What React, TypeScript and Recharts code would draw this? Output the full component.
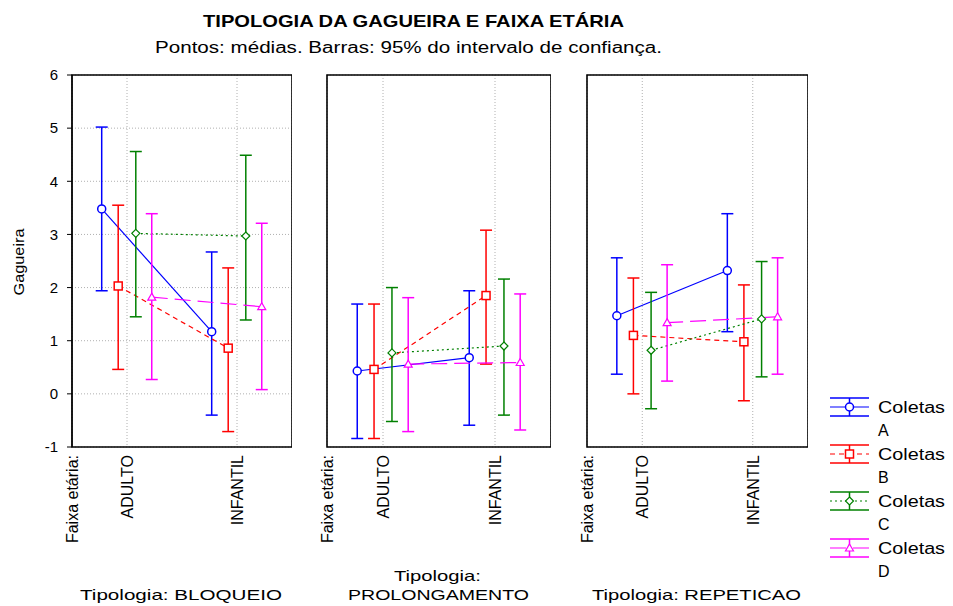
import React from "react";
import { ComposedChart, Line, XAxis, YAxis, CartesianGrid, ErrorBar, ReferenceArea } from "recharts";

const FONT = "'Liberation Sans', Arial, sans-serif";

const categories = ["ADULTO", "INFANTIL"];
const xTickValues = [0, 1, 3];
const xTickLabels = ["Faixa etária:", "ADULTO", "INFANTIL"];
const yTicks = [-1, 0, 1, 2, 3, 4, 5, 6];
const rightTicks = [5.13, 4.26, 3.35, 2.49, 1.61, 0.75, -0.16];
const panelNames = ["BLOQUEIO", "PROLONGAMENTO", "REPETICAO"];
const seriesNames = ["Coletas A", "Coletas B", "Coletas C", "Coletas D"];
const seriesColors = ["#0000FF", "#FF0000", "#008000", "#FF00FF"];
const seriesDash = ["0", "5 4", "2 3", "16 7"];
const seriesOffsets = [-0.46, -0.16, 0.16, 0.45];

// [series][category]
const bloqueioMeans = [[3.48, 1.17], [2.03, 0.86], [3.02, 2.97], [1.82, 1.64]];
const bloqueioLower = [[1.94, -0.4], [0.46, -0.71], [1.45, 1.39], [0.27, 0.08]];
const bloqueioUpper = [[5.02, 2.67], [3.55, 2.37], [4.56, 4.49], [3.39, 3.21]];

const prolongMeans = [[0.43, 0.68], [0.46, 1.85], [0.77, 0.9], [0.56, 0.59]];
const prolongLower = [[-0.84, -0.59], [-0.84, 0.56], [-0.52, -0.4], [-0.71, -0.68]];
const prolongUpper = [[1.69, 1.94], [1.69, 3.08], [2.0, 2.16], [1.81, 1.88]];

const repeticaoMeans = [[1.47, 2.32], [1.1, 0.98], [0.82, 1.41], [1.34, 1.45]];
const repeticaoLower = [[0.37, 1.17], [0.0, -0.13], [-0.28, 0.32], [0.24, 0.37]];
const repeticaoUpper = [[2.56, 3.39], [2.18, 2.05], [1.91, 2.49], [2.43, 2.56]];

function Marker({ s, cx, cy }: { s: number; cx: number; cy: number }) {
  const c = seriesColors[s];
  if (s === 0) return <circle cx={cx} cy={cy} r={4} fill="#fff" stroke={c} strokeWidth={1.5} />;
  if (s === 1) return <rect x={cx - 4} y={cy - 4} width={8} height={8} fill="#fff" stroke={c} strokeWidth={1.5} />;
  if (s === 2)
    return (
      <polygon
        points={`${cx},${cy - 4} ${cx + 4},${cy} ${cx},${cy + 4} ${cx - 4},${cy}`}
        fill="#fff"
        stroke={c}
        strokeWidth={1.2}
      />
    );
  return (
    <polygon
      points={`${cx},${cy - 4} ${cx + 4},${cy + 3} ${cx - 4},${cy + 3}`}
      fill="#fff"
      stroke={c}
      strokeWidth={1.2}
    />
  );
}

const XTick = (props: any) => {
  const { x, y, payload } = props;
  const idx = xTickValues.indexOf(payload.value);
  return (
    <text
      x={0}
      y={0}
      transform={`translate(${x + 6},${y + 8}) rotate(-90)`}
      textAnchor="end"
      fontSize={16}
      fontFamily={FONT}
      fill="#000"
    >
      {xTickLabels[idx]}
    </text>
  );
};

function buildSeries(means: number[][], lower: number[][], upper: number[][], s: number) {
  return categories.map((c, i) => ({
    cat: c,
    x: 1 + 2 * i + seriesOffsets[s],
    y: means[s][i],
    err: [means[s][i] - lower[s][i], upper[s][i] - means[s][i]],
  }));
}

function Panel({
  plotLeft,
  plotWidth,
  showY,
  means,
  lower,
  upper,
}: {
  plotLeft: number;
  plotWidth: number;
  showY: boolean;
  means: number[][];
  lower: number[][];
  upper: number[][];
}) {
  const yW = showY ? 40 : 14;
  const width = yW + plotWidth + 1;
  return (
    <div style={{ position: "absolute", left: plotLeft - yW, top: 60 }}>
      <ComposedChart width={width} height={497} margin={{ top: 15, right: 0, bottom: 0, left: 0 }}>
        <CartesianGrid stroke="#b0b0b0" strokeDasharray="1 2" />
        <XAxis
          type="number"
          dataKey="x"
          domain={[0, 4]}
          ticks={xTickValues}
          interval={0}
          tick={<XTick />}
          tickLine={false}
          axisLine={false}
          tickSize={0}
          tickMargin={0}
          height={110}
          allowDataOverflow
        />
        {showY ? (
          <YAxis
            domain={[-1, 6]}
            ticks={yTicks}
            interval={0}
            width={yW}
            allowDataOverflow
            tickSize={5}
            tickMargin={9}
            stroke="#000"
            tick={{ fontSize: 15, fill: "#000", fontFamily: FONT }}
          />
        ) : (
          <YAxis
            domain={[-1, 6]}
            ticks={yTicks}
            interval={0}
            width={yW}
            allowDataOverflow
            tick={false}
            tickLine={false}
            axisLine={false}
          />
        )}
        <YAxis
          yAxisId="r"
          orientation="right"
          domain={[-1, 6]}
          ticks={rightTicks}
          interval={0}
          width={1}
          mirror
          tick={false}
          axisLine={false}
          tickSize={5}
          stroke="#000"
          allowDataOverflow
        />
        <ReferenceArea
          x1={0}
          x2={4}
          y1={-1}
          y2={6}
          fill="none"
          fillOpacity={0}
          stroke="#000"
          strokeWidth={1.6}
          ifOverflow="visible"
        />
        {seriesNames.map((name, s) => (
          <Line
            key={name}
            name={name}
            data={buildSeries(means, lower, upper, s)}
            dataKey="y"
            type="linear"
            stroke={seriesColors[s]}
            strokeWidth={1.2}
            strokeDasharray={seriesDash[s]}
            isAnimationActive={false}
            activeDot={false}
            dot={(p: any) => (
              <g key={`d-${s}-${p.index}`}>
                <Marker s={s} cx={p.cx} cy={p.cy} />
              </g>
            )}
          >
            <ErrorBar dataKey="err" width={6} stroke={seriesColors[s]} strokeWidth={1.5} direction="y" />
          </Line>
        ))}
      </ComposedChart>
    </div>
  );
}

export default function App() {
  const legendRows = seriesNames.map((n, s) => ({ n, s, cy: 407 + 47 * s }));
  return (
    <div style={{ position: "absolute", left: 0, top: 0, width: 953, height: 606, background: "#fff", overflow: "hidden" }}>
      <Panel plotLeft={72} plotWidth={219} showY means={bloqueioMeans} lower={bloqueioLower} upper={bloqueioUpper} />
      <Panel plotLeft={327} plotWidth={223} showY={false} means={prolongMeans} lower={prolongLower} upper={prolongUpper} />
      <Panel plotLeft={587} plotWidth={220} showY={false} means={repeticaoMeans} lower={repeticaoLower} upper={repeticaoUpper} />
      <svg
        width={953}
        height={606}
        style={{ position: "absolute", left: 0, top: 0, pointerEvents: "none" }}
        fontFamily={FONT}
      >
        <text x={203} y={26.5} fontSize={17} fontWeight="bold" textLength={421} lengthAdjust="spacingAndGlyphs" fill="#000">
          TIPOLOGIA DA GAGUEIRA E FAIXA ETÁRIA
        </text>
        <text x={155} y={53} fontSize={16} textLength={507} lengthAdjust="spacingAndGlyphs" fill="#000">
          Pontos: médias. Barras: 95% do intervalo de confiança.
        </text>
        <text
          x={0}
          y={0}
          transform="translate(24,262) rotate(-90)"
          textAnchor="middle"
          fontSize={15}
          textLength={67}
          lengthAdjust="spacingAndGlyphs"
          fill="#000"
        >
          Gagueira
        </text>
        <text x={80} y={600} fontSize={15} textLength={202} lengthAdjust="spacingAndGlyphs" fill="#000">
          {`Tipologia: ${panelNames[0]}`}
        </text>
        <text x={394} y={581} fontSize={15} textLength={87} lengthAdjust="spacingAndGlyphs" fill="#000">
          Tipologia:
        </text>
        <text x={348} y={600} fontSize={15} textLength={181} lengthAdjust="spacingAndGlyphs" fill="#000">
          {panelNames[1]}
        </text>
        <text x={592} y={600} fontSize={15} textLength={209} lengthAdjust="spacingAndGlyphs" fill="#000">
          {`Tipologia: ${panelNames[2]}`}
        </text>
        {legendRows.map(({ n, s, cy }) => {
          const c = seriesColors[s];
          const parts = n.split(" ");
          return (
            <g key={n}>
              <line x1={830} x2={869} y1={cy - 9} y2={cy - 9} stroke={c} strokeWidth={1.5} />
              <line x1={830} x2={869} y1={cy + 9} y2={cy + 9} stroke={c} strokeWidth={1.5} />
              <line x1={849.5} x2={849.5} y1={cy - 9} y2={cy + 9} stroke={c} strokeWidth={1.5} />
              <line x1={830} x2={869} y1={cy} y2={cy} stroke={c} strokeWidth={1.2} strokeDasharray={seriesDash[s]} />
              <Marker s={s} cx={849.5} cy={cy} />
              <text x={878} y={cy + 6} fontSize={16} textLength={67} lengthAdjust="spacingAndGlyphs" fill="#000">
                {parts[0]}
              </text>
              <text x={878} y={cy + 29} fontSize={16} fill="#000">
                {parts[1]}
              </text>
            </g>
          );
        })}
      </svg>
    </div>
  );
}
